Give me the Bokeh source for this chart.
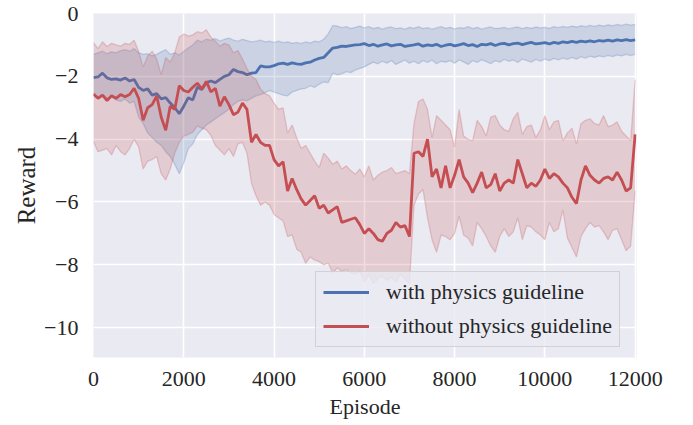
from bokeh.plotting import figure
from bokeh.models import Range1d, FixedTicker, Legend, LegendItem
from bokeh.embed import file_html
from bokeh.resources import INLINE

# ---------------- data ----------------
episodes = list(range(0, 12001, 100))

blue_mean = [
    -2.04, -2.02, -1.90, -2.05, -2.10, -2.08, -2.12, -2.05, -2.15, -2.10,
    -2.35, -2.45, -2.40, -2.60, -2.55, -2.72, -2.68, -2.85, -3.00, -3.19,
    -2.95, -2.68, -2.75, -2.35, -2.42, -2.20, -2.15, -2.20, -2.10, -2.00,
    -1.95, -1.78, -1.85, -1.88, -1.95, -1.90, -1.88, -1.67, -1.70, -1.70,
    -1.66, -1.60, -1.58, -1.62, -1.57, -1.60, -1.62, -1.57, -1.55, -1.48,
    -1.43, -1.40, -1.25, -1.10, -1.08, -1.04, -1.05, -1.02, -1.00, -0.99,
    -0.96, -1.02, -0.98, -1.04, -1.00, -0.97, -1.03, -1.00, -0.98, -1.05,
    -1.02, -1.00, -0.97, -1.04, -1.00, -1.02, -0.98, -1.05, -1.01, -0.98,
    -1.03, -1.00, -0.96, -1.02, -0.99, -1.05, -0.98, -1.00, -0.96, -1.02,
    -0.97, -0.95, -1.00, -0.96, -0.94, -0.99, -0.95, -0.92, -0.97, -0.95,
    -0.93, -0.97, -0.92, -0.95, -0.90, -0.93, -0.89, -0.92, -0.88, -0.90,
    -0.87, -0.90, -0.86, -0.88, -0.85, -0.88, -0.84, -0.86, -0.83, -0.86,
    -0.84,
]
blue_upper = [
    -1.30, -1.25, -1.20, -1.28, -1.22, -1.25, -1.18, -1.15, -1.20, -1.12,
    -1.25, -1.30, -1.28, -1.35, -1.30, -1.22, -1.15, -1.30, -1.25, -1.32,
    -1.20, -1.10, -1.00, -0.85, -0.90, -0.82, -0.85, -0.80, -0.88, -0.82,
    -0.78, -0.85, -0.88, -0.82, -0.86, -0.90, -0.88, -0.85, -0.90, -0.88,
    -0.92, -0.88, -0.93, -0.90, -0.95, -0.92, -0.96, -0.90, -0.94, -0.88,
    -0.90, -0.82, -0.65, -0.38, -0.40, -0.45, -0.42, -0.48, -0.44, -0.40,
    -0.46, -0.42, -0.48, -0.44, -0.50, -0.45, -0.43, -0.48, -0.46, -0.50,
    -0.44, -0.47, -0.42, -0.48, -0.45, -0.50, -0.46, -0.42, -0.47, -0.44,
    -0.49, -0.45, -0.47, -0.42, -0.48, -0.44, -0.50, -0.46, -0.43, -0.48,
    -0.47, -0.44, -0.49, -0.45, -0.43, -0.48, -0.44, -0.47, -0.43, -0.46,
    -0.44, -0.47, -0.42, -0.45, -0.41, -0.44, -0.40, -0.43, -0.39, -0.42,
    -0.38, -0.41, -0.37, -0.40, -0.36, -0.39, -0.35, -0.38, -0.34, -0.37,
    -0.35,
]
blue_lower = [
    -2.60, -2.65, -2.58, -2.70, -2.66, -2.75, -2.80, -2.72, -2.85, -2.80,
    -3.30, -3.50, -3.80, -3.95, -4.10, -4.20, -4.40, -4.55, -4.80, -5.10,
    -4.75, -4.30, -4.15, -3.85, -3.70, -3.55, -3.45, -3.35, -3.25, -3.15,
    -3.05, -2.90, -2.80, -2.75, -2.78, -2.70, -2.62, -2.58, -2.52, -2.45,
    -2.50, -2.55, -2.60, -2.62, -2.50, -2.45, -2.40, -2.38, -2.30, -2.35,
    -2.25, -2.18, -2.20, -1.90, -1.95, -1.92, -1.85, -1.88, -1.80, -1.75,
    -1.70, -1.62, -1.55, -1.60, -1.52, -1.58, -1.50, -1.62, -1.55, -1.48,
    -1.58, -1.52, -1.60, -1.50, -1.56, -1.48, -1.60, -1.52, -1.55, -1.50,
    -1.58, -1.48, -1.54, -1.62, -1.50, -1.56, -1.47, -1.53, -1.60, -1.50,
    -1.55, -1.46, -1.52, -1.48, -1.56, -1.45, -1.50, -1.55, -1.46, -1.52,
    -1.45, -1.50, -1.43, -1.48, -1.42, -1.46, -1.40, -1.45, -1.38, -1.42,
    -1.36, -1.40, -1.35, -1.38, -1.33, -1.37, -1.32, -1.35, -1.30, -1.34,
    -1.30,
]

red_mean = [
    -2.56, -2.70, -2.60, -2.77, -2.62, -2.70, -2.58, -2.65, -2.58, -2.38,
    -2.70, -3.40, -3.00, -2.90, -2.62, -3.30, -3.72, -2.95, -3.05, -2.30,
    -2.45, -2.50, -2.35, -2.22, -2.40, -2.16, -2.50, -2.38, -2.95, -2.65,
    -2.90, -3.22, -3.14, -2.85, -3.05, -4.10, -3.85, -4.10, -4.20, -4.20,
    -4.65, -4.85, -4.72, -5.65, -5.25, -5.60, -5.90, -6.10, -5.95, -5.80,
    -6.20, -6.10, -6.35, -6.25, -6.15, -6.65, -6.60, -6.55, -6.50, -6.72,
    -7.00, -6.85, -7.00, -7.20, -7.25, -7.00, -6.90, -6.65, -6.80, -6.75,
    -7.10, -4.45, -4.40, -4.55, -4.00, -5.20, -4.95, -5.55, -4.85, -5.55,
    -5.15, -4.65, -5.20, -5.40, -5.70, -5.40, -5.05, -5.55, -5.45, -5.10,
    -5.65, -5.40, -5.30, -5.40, -4.65, -5.10, -5.55, -5.40, -5.50, -5.30,
    -4.95, -5.25, -5.10, -5.20, -5.40, -5.55, -5.85, -6.05, -5.30, -4.85,
    -5.15, -5.30, -5.40, -5.25, -5.20, -5.30, -5.05, -5.30, -5.65, -5.55,
    -3.85,
]
red_upper = [
    -0.93, -1.12, -0.90, -1.05, -0.95, -1.00, -1.04, -0.95, -0.98, -0.85,
    -1.20, -1.70, -1.35, -1.20, -1.45, -1.95, -1.40, -1.55, -1.25, -0.75,
    -0.65, -0.72, -0.68, -0.58, -0.62, -0.52, -0.75, -0.88, -1.04, -0.95,
    -1.00, -1.25, -1.18, -1.45, -1.75, -2.00, -2.10, -2.40, -2.55, -2.62,
    -2.85, -3.05, -3.00, -3.80, -3.55, -3.95, -4.30, -4.20, -4.45, -4.70,
    -4.90, -4.45, -4.60, -4.80, -4.70, -4.95, -4.85, -5.00, -5.12, -4.95,
    -5.20, -4.85, -5.30, -5.15, -5.05, -5.00, -4.90, -5.10, -5.05, -5.00,
    -5.10, -3.50, -2.80, -2.72, -3.05, -3.95, -3.25, -3.40, -3.55, -3.70,
    -4.25, -3.05, -3.90, -4.00, -4.05, -3.40, -3.60, -3.90, -3.30, -3.25,
    -3.55, -3.70, -3.75, -3.35, -3.15, -3.85, -3.60, -3.55, -3.95, -3.70,
    -3.25, -3.70, -3.45, -3.40, -4.05, -3.80, -3.65, -4.15, -3.50, -3.40,
    -3.35, -3.50, -3.55, -3.25, -3.60, -3.55, -3.45, -3.75, -3.90, -4.05,
    -2.10,
]
red_lower = [
    -4.08, -4.40, -4.35, -4.30, -4.50, -4.20, -4.40, -4.50, -4.30, -4.00,
    -4.25, -4.95, -4.70, -4.65, -4.55, -5.10, -5.30, -4.95, -4.45, -4.10,
    -3.90, -3.85, -3.78, -3.58, -3.65, -3.70, -3.88, -4.20, -4.35, -4.50,
    -4.30, -4.55, -4.15, -4.10, -4.45, -5.40, -5.80, -6.10, -6.00, -6.10,
    -6.40, -6.50, -6.60, -7.10, -7.05, -7.50, -7.60, -7.95, -7.75, -7.85,
    -7.90, -8.00, -7.95, -8.25, -8.10, -8.20, -8.15, -8.25, -8.30, -8.20,
    -8.55, -8.30, -8.60, -8.45, -8.35, -8.50, -8.40, -8.55, -8.30, -8.45,
    -8.60, -6.10, -5.75, -5.60, -6.50, -7.20, -7.60, -7.05, -7.10, -7.20,
    -7.00, -6.45, -7.05, -7.15, -7.40, -6.65, -6.85, -7.10, -7.40, -7.60,
    -7.10, -6.85, -7.10, -6.95, -6.50, -7.20, -6.75, -6.80, -6.95, -7.05,
    -7.20, -6.65, -6.95, -6.85, -6.25, -7.15, -7.45, -7.75, -7.10, -6.85,
    -6.65, -6.80, -6.75, -6.95, -7.20, -6.90, -6.85, -7.20, -7.55, -7.40,
    -5.65,
]

x_ticks = [0, 2000, 4000, 6000, 8000, 10000, 12000]
x_tick_labels = ["0", "2000", "4000", "6000", "8000", "10000", "12000"]
y_ticks = [-10, -8, -6, -4, -2, 0]
y_tick_labels = ["\u221210", "\u22128", "\u22126", "\u22124", "\u22122", "0"]
series_labels = ["with physics guideline", "without physics guideline"]
x_label = "Episode"
y_label = "Reward"

# ---------------- style ----------------
BLUE = "#4C72B0"
RED = "#C44E52"
BG = "#EAEAF2"
TXT = "#262626"
FONT = "Liberation Serif"
FS = "22px"

p = figure(width=693, height=425, output_backend="svg", toolbar_location=None,
           x_range=Range1d(0, 12030), y_range=Range1d(-10.95, 0),
           min_border_left=93, min_border_right=57, min_border_top=13,
           min_border_bottom=68)
p.background_fill_color = BG
p.border_fill_color = "white"
p.outline_line_color = None

for ax in (p.xaxis[0], p.yaxis[0]):
    ax.axis_line_color = None
    ax.major_tick_line_color = None
    ax.minor_tick_line_color = None
    ax.major_tick_out = 0
    ax.major_tick_in = 0
    ax.minor_tick_out = 0
    ax.major_label_text_font = FONT
    ax.major_label_text_font_size = FS
    ax.major_label_text_color = TXT
    ax.axis_label_text_font = FONT
    ax.axis_label_text_font_size = FS
    ax.axis_label_text_color = TXT
    ax.axis_label_text_font_style = "normal"

p.yaxis.axis_label_text_font_size = "25px"
p.xaxis.ticker = FixedTicker(ticks=x_ticks)
p.yaxis.ticker = FixedTicker(ticks=y_ticks)
p.xaxis.major_label_overrides = {t: l for t, l in zip(x_ticks, x_tick_labels)}
p.yaxis.major_label_overrides = {t: l for t, l in zip(y_ticks, y_tick_labels)}
p.xaxis.axis_label = x_label
p.yaxis.axis_label = y_label
p.xaxis.major_label_standoff = 14
p.xaxis.axis_label_standoff = 5
p.yaxis.major_label_standoff = 15
p.yaxis.axis_label_standoff = 1

for g in (p.xgrid[0], p.ygrid[0]):
    g.grid_line_color = "white"
    g.grid_line_width = 1.6
p.xgrid.ticker = FixedTicker(ticks=x_ticks)
p.ygrid.ticker = FixedTicker(ticks=y_ticks)

# blue series
p.varea(x=episodes, y1=blue_lower, y2=blue_upper, fill_color=BLUE, fill_alpha=0.2)
p.line(episodes, blue_upper, line_color=BLUE, line_alpha=0.25, line_width=1.3)
p.line(episodes, blue_lower, line_color=BLUE, line_alpha=0.25, line_width=1.3)
blue_line = p.line(episodes, blue_mean, line_color=BLUE, line_width=2.8)

# red series
p.varea(x=episodes, y1=red_lower, y2=red_upper, fill_color=RED, fill_alpha=0.2)
p.line(episodes, red_upper, line_color=RED, line_alpha=0.25, line_width=1.3)
p.line(episodes, red_lower, line_color=RED, line_alpha=0.25, line_width=1.3)
red_line = p.line(episodes, red_mean, line_color=RED, line_width=2.8)

legend = Legend(items=[LegendItem(label=series_labels[0], renderers=[blue_line]),
                       LegendItem(label=series_labels[1], renderers=[red_line])],
                location=(222, 10), margin=0, padding=7, spacing=8,
                glyph_width=46, glyph_height=24, label_height=24,
                label_standoff=17,
                label_text_font=FONT, label_text_font_size=FS,
                label_text_color=TXT,
                background_fill_color=BG, background_fill_alpha=0.8,
                border_line_color="#CCCCCC", border_line_alpha=0.8,
                border_line_width=1)
p.add_layout(legend)

open("out.html", "w").write(file_html(p, INLINE))
